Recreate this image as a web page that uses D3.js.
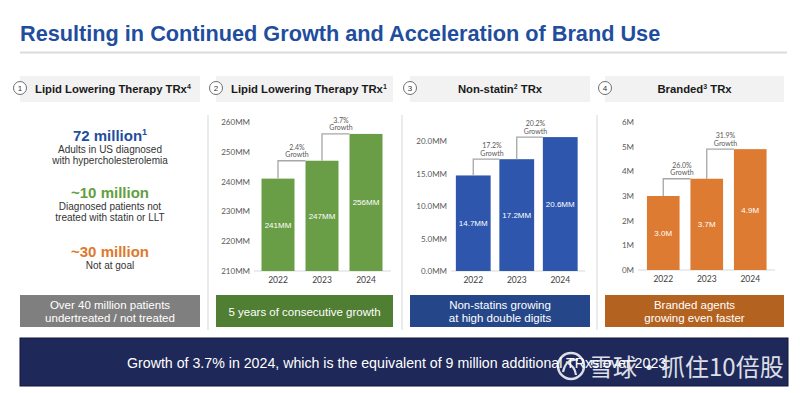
<!DOCTYPE html>
<html>
<head>
<meta charset="utf-8">
<script src="https://cdn.jsdelivr.net/npm/d3@7"></script>
<style>
    body { margin: 0; background: #fff; }
    svg { display: block; font-family: "Liberation Sans", Arial, sans-serif; }
</style>
</head>
<body>
<div id="chart"></div>
<script>
// Data
const years = ['2022', '2023', '2024'];
const lltTrx = [241, 247, 256];            // MM
const nonStatinTrx = [14.7, 17.2, 20.6];   // MM
const brandedTrx = [3.0, 3.7, 4.9];        // M
const lltGrowth = ['2.4%', '3.7%'];
const nonStatinGrowth = ['17.2%', '20.2%'];
const brandedGrowth = ['26.0%', '31.9%'];
const lltTicks = [210, 220, 230, 240, 250, 260];
const nonStatinTicks = [0, 5, 10, 15, 20];
const brandedTicks = [0, 1, 2, 3, 4, 5, 6];

const panelTitles = [
    ['Lipid Lowering Therapy TRx', '4'],
    ['Lipid Lowering Therapy TRx', '1'],
    ['Non-statin', '2', ' TRx'],
    ['Branded', '3', ' TRx']
];
const panelFooters = [
    ['Over 40 million patients', 'undertreated / not treated'],
    ['5 years of consecutive growth'],
    ['Non-statins growing', 'at high double digits'],
    ['Branded agents', 'growing even faster']
];
const statHeadlines = ['72 million', '~10 million', '~30 million'];
const statNotes = [
    ['Adults in US diagnosed', 'with hypercholesterolemia'],
    ['Diagnosed patients not', 'treated with statin or LLT'],
    ['Not at goal']
];
const bannerText = 'Growth of 3.7% in 2024, which is the equivalent of 9 million additional TRxs over 2023';

const width = 800, height = 393;
const svg = d3.select('#chart').append('svg')
    .attr('width', width)
    .attr('height', height);

// Title and rule
svg.append('text')
    .attr('x', 20).attr('y', 41)
    .attr('font-size', 21.7).attr('font-weight', 'bold')
    .attr('fill', '#1f4e9e')
    .text('Resulting in Continued Growth and Acceleration of Brand Use');
svg.append('line')
    .attr('x1', 20).attr('x2', 787).attr('y1', 52.5).attr('y2', 52.5)
    .attr('stroke', '#dcdcdc').attr('stroke-width', 2);

const panelLeft = [20, 216, 410, 605];
const panelWidth = [180, 177, 180, 179];
const footerColors = ['#7f7f7f', '#507e32', '#25478a', '#b3621f'];

// separators between panels
[208, 402, 597].forEach(x => {
    svg.append('line')
        .attr('x1', x).attr('x2', x).attr('y1', 115).attr('y2', 330)
        .attr('stroke', '#dedede').attr('stroke-width', 1.2);
});

panelTitles.forEach((t, i) => {
    const g = svg.append('g');
    const left = panelLeft[i], w = panelWidth[i];
    g.append('rect')
        .attr('x', left).attr('y', 76).attr('width', w).attr('height', 26)
        .attr('fill', '#f2f2f2');
    g.append('circle')
        .attr('cx', left).attr('cy', 88).attr('r', 6.5)
        .attr('fill', '#fff').attr('stroke', '#6f6f6f').attr('stroke-width', 1);
    g.append('text')
        .attr('x', left).attr('y', 90.8)
        .attr('text-anchor', 'middle')
        .attr('font-size', 8).attr('fill', '#333')
        .text(i + 1);
    const title = g.append('text')
        .attr('y', 93)
        .attr('font-size', 11.3).attr('font-weight', 'bold').attr('fill', '#1a1a1a');
    if (i < 2) {
        title.attr('x', left + 15);
    } else {
        title.attr('x', left + w / 2).attr('text-anchor', 'middle');
    }
    title.append('tspan').text(t[0]);
    title.append('tspan').attr('font-size', 7).attr('dy', -4.5).text(t[1]);
    if (t[2]) title.append('tspan').attr('dy', 4.5).text(t[2]);

    // footer box
    g.append('rect')
        .attr('x', left).attr('y', 295).attr('width', w).attr('height', 32)
        .attr('fill', footerColors[i]);
    const lines = panelFooters[i];
    const baseY = lines.length === 1 ? 315.5 : 308.5;
    lines.forEach((line, j) => {
        g.append('text')
            .attr('x', left + w / 2).attr('y', baseY + j * 13)
            .attr('text-anchor', 'middle')
            .attr('font-size', 11.5)
            .attr('fill', '#fff')
            .text(line);
    });
});

// Panel 1: patient statistics
const statColors = ['#1f4e9e', '#62a03f', '#e0782b'];
const statY = [141, 198, 257];
statHeadlines.forEach((h, i) => {
    const t = svg.append('text')
        .attr('x', 110).attr('y', statY[i])
        .attr('text-anchor', 'middle')
        .attr('font-size', 15).attr('font-weight', 'bold')
        .attr('fill', statColors[i]);
    t.append('tspan').text(h);
    if (i === 0) t.append('tspan').attr('font-size', 9).attr('dy', -6).text('1');
    statNotes[i].forEach((n, j) => {
        svg.append('text')
            .attr('x', 110).attr('y', statY[i] + 12 + j * 10.5)
            .attr('text-anchor', 'middle')
            .attr('font-size', 10).attr('fill', '#333')
            .text(n);
    });
});

// Bar panels
function drawBarPanel(cfg) {
    const g = svg.append('g');
    const x = d3.scaleBand()
        .domain(years)
        .range(cfg.xRange)
        .paddingInner(cfg.padInner)
        .paddingOuter(cfg.padOuter);
    const y = d3.scaleLinear()
        .domain([cfg.ticks[0], cfg.ticks[cfg.ticks.length - 1]])
        .range(cfg.yRange);
    const base = cfg.yRange[0];

    // y axis labels
    const yAxis = g.append('g')
        .attr('transform', `translate(${cfg.axisX},0)`)
        .call(d3.axisLeft(y).tickValues(cfg.ticks).tickSize(0).tickPadding(3).tickFormat(cfg.tickFormat));
    yAxis.select('.domain').remove();
    yAxis.selectAll('text')
        .attr('font-family', 'Lato, sans-serif')
        .attr('font-size', 8).attr('fill', '#595959');

    // baseline
    g.append('line')
        .attr('x1', cfg.axisX + 1).attr('x2', cfg.xRange[1] + 3)
        .attr('y1', base).attr('y2', base)
        .attr('stroke', '#d9d9d9').attr('stroke-width', 1);

    // bars
    g.selectAll('rect.bar')
        .data(cfg.values)
        .enter().append('rect')
        .attr('class', 'bar')
        .attr('x', (d, i) => x(years[i]))
        .attr('width', x.bandwidth())
        .attr('y', d => y(d))
        .attr('height', d => base - y(d))
        .attr('fill', cfg.color);

    // value labels
    g.selectAll('text.val')
        .data(cfg.values)
        .enter().append('text')
        .attr('class', 'val')
        .attr('x', (d, i) => x(years[i]) + x.bandwidth() / 2)
        .attr('y', d => (y(d) + base) / 2 + 3)
        .attr('text-anchor', 'middle')
        .attr('font-size', 8).attr('fill', '#fff')
        .text(cfg.valueFormat);

    // x axis
    const xAxis = g.append('g')
        .attr('transform', `translate(0,${base})`)
        .call(d3.axisBottom(x).tickSize(0).tickPadding(6));
    xAxis.select('.domain').remove();
    xAxis.selectAll('text')
        .attr('font-family', 'Lato, sans-serif')
        .attr('font-size', 8.5).attr('fill', '#404040');

    // growth connectors
    cfg.growth.forEach((label, i) => {
        const cx = x(years[i]) + x.bandwidth() / 2;
        const nextLeft = x(years[i + 1]);
        const topY = y(cfg.values[i + 1]);
        g.append('path')
            .attr('d', `M${cx},${y(cfg.values[i])}V${topY}H${nextLeft}`)
            .attr('fill', 'none')
            .attr('stroke', '#a6a6a6').attr('stroke-width', 1.3);
        const lx = (x(years[i]) + x.bandwidth() + nextLeft) / 2 - 3;
        g.append('text')
            .attr('x', lx).attr('y', topY - 11)
            .attr('text-anchor', 'middle')
            .attr('font-family', 'Lato, sans-serif')
            .attr('font-size', 7).attr('fill', '#595959')
            .text(label);
        g.append('text')
            .attr('x', lx).attr('y', topY - 3.5)
            .attr('text-anchor', 'middle')
            .attr('font-family', 'Lato, sans-serif')
            .attr('font-size', 7).attr('fill', '#595959')
            .text('Growth');
    });
}

drawBarPanel({
    values: lltTrx, growth: lltGrowth, ticks: lltTicks,
    xRange: [256, 388], padInner: 0.25, padOuter: 0.125,
    yRange: [271, 122], axisX: 253,
    color: '#6a9e46',
    tickFormat: d => d + 'MM',
    valueFormat: d => d + 'MM'
});
drawBarPanel({
    values: nonStatinTrx, growth: nonStatinGrowth, ticks: nonStatinTicks,
    xRange: [451.5, 582], padInner: 0.2, padOuter: 0.1,
    yRange: [271, 141], axisX: 450,
    color: '#2e56ad',
    tickFormat: d => d3.format('.1f')(d) + 'MM',
    valueFormat: d => d3.format('.1f')(d) + 'MM'
});
drawBarPanel({
    values: brandedTrx, growth: brandedGrowth, ticks: brandedTicks,
    xRange: [641.5, 772], padInner: 0.25, padOuter: 0.125,
    yRange: [270, 122], axisX: 637,
    color: '#de7b33',
    tickFormat: d => d + 'M',
    valueFormat: d => d3.format('.1f')(d) + 'M'
});

// Bottom banner
svg.append('rect')
    .attr('x', 20).attr('y', 338).attr('width', 768).attr('height', 48)
    .attr('fill', '#1e2859')
    .attr('stroke', '#10163a').attr('stroke-width', 1);
svg.append('text')
    .attr('x', 127).attr('y', 368)
    .attr('font-size', 14.2).attr('fill', '#fff')
    .text(bannerText);

// Watermark
const wm = svg.append('g').attr('opacity', 0.85);
wm.append('circle')
    .attr('cx', 571).attr('cy', 366).attr('r', 13)
    .attr('fill', 'none').attr('stroke', '#fff').attr('stroke-width', 2.5);
wm.append('path')
    .attr('d', 'M563,372 Q566,358 578,360 M566,362 Q575,366 576,375')
    .attr('fill', 'none').attr('stroke', '#fff').attr('stroke-width', 2.2);
wm.append('text')
    .attr('x', 589).attr('y', 376)
    .attr('font-family', '"Noto Sans CJK SC", sans-serif')
    .attr('font-size', 24).attr('fill', '#fff')
    .text('雪球·抓住10倍股');
</script>
</body>
</html>
